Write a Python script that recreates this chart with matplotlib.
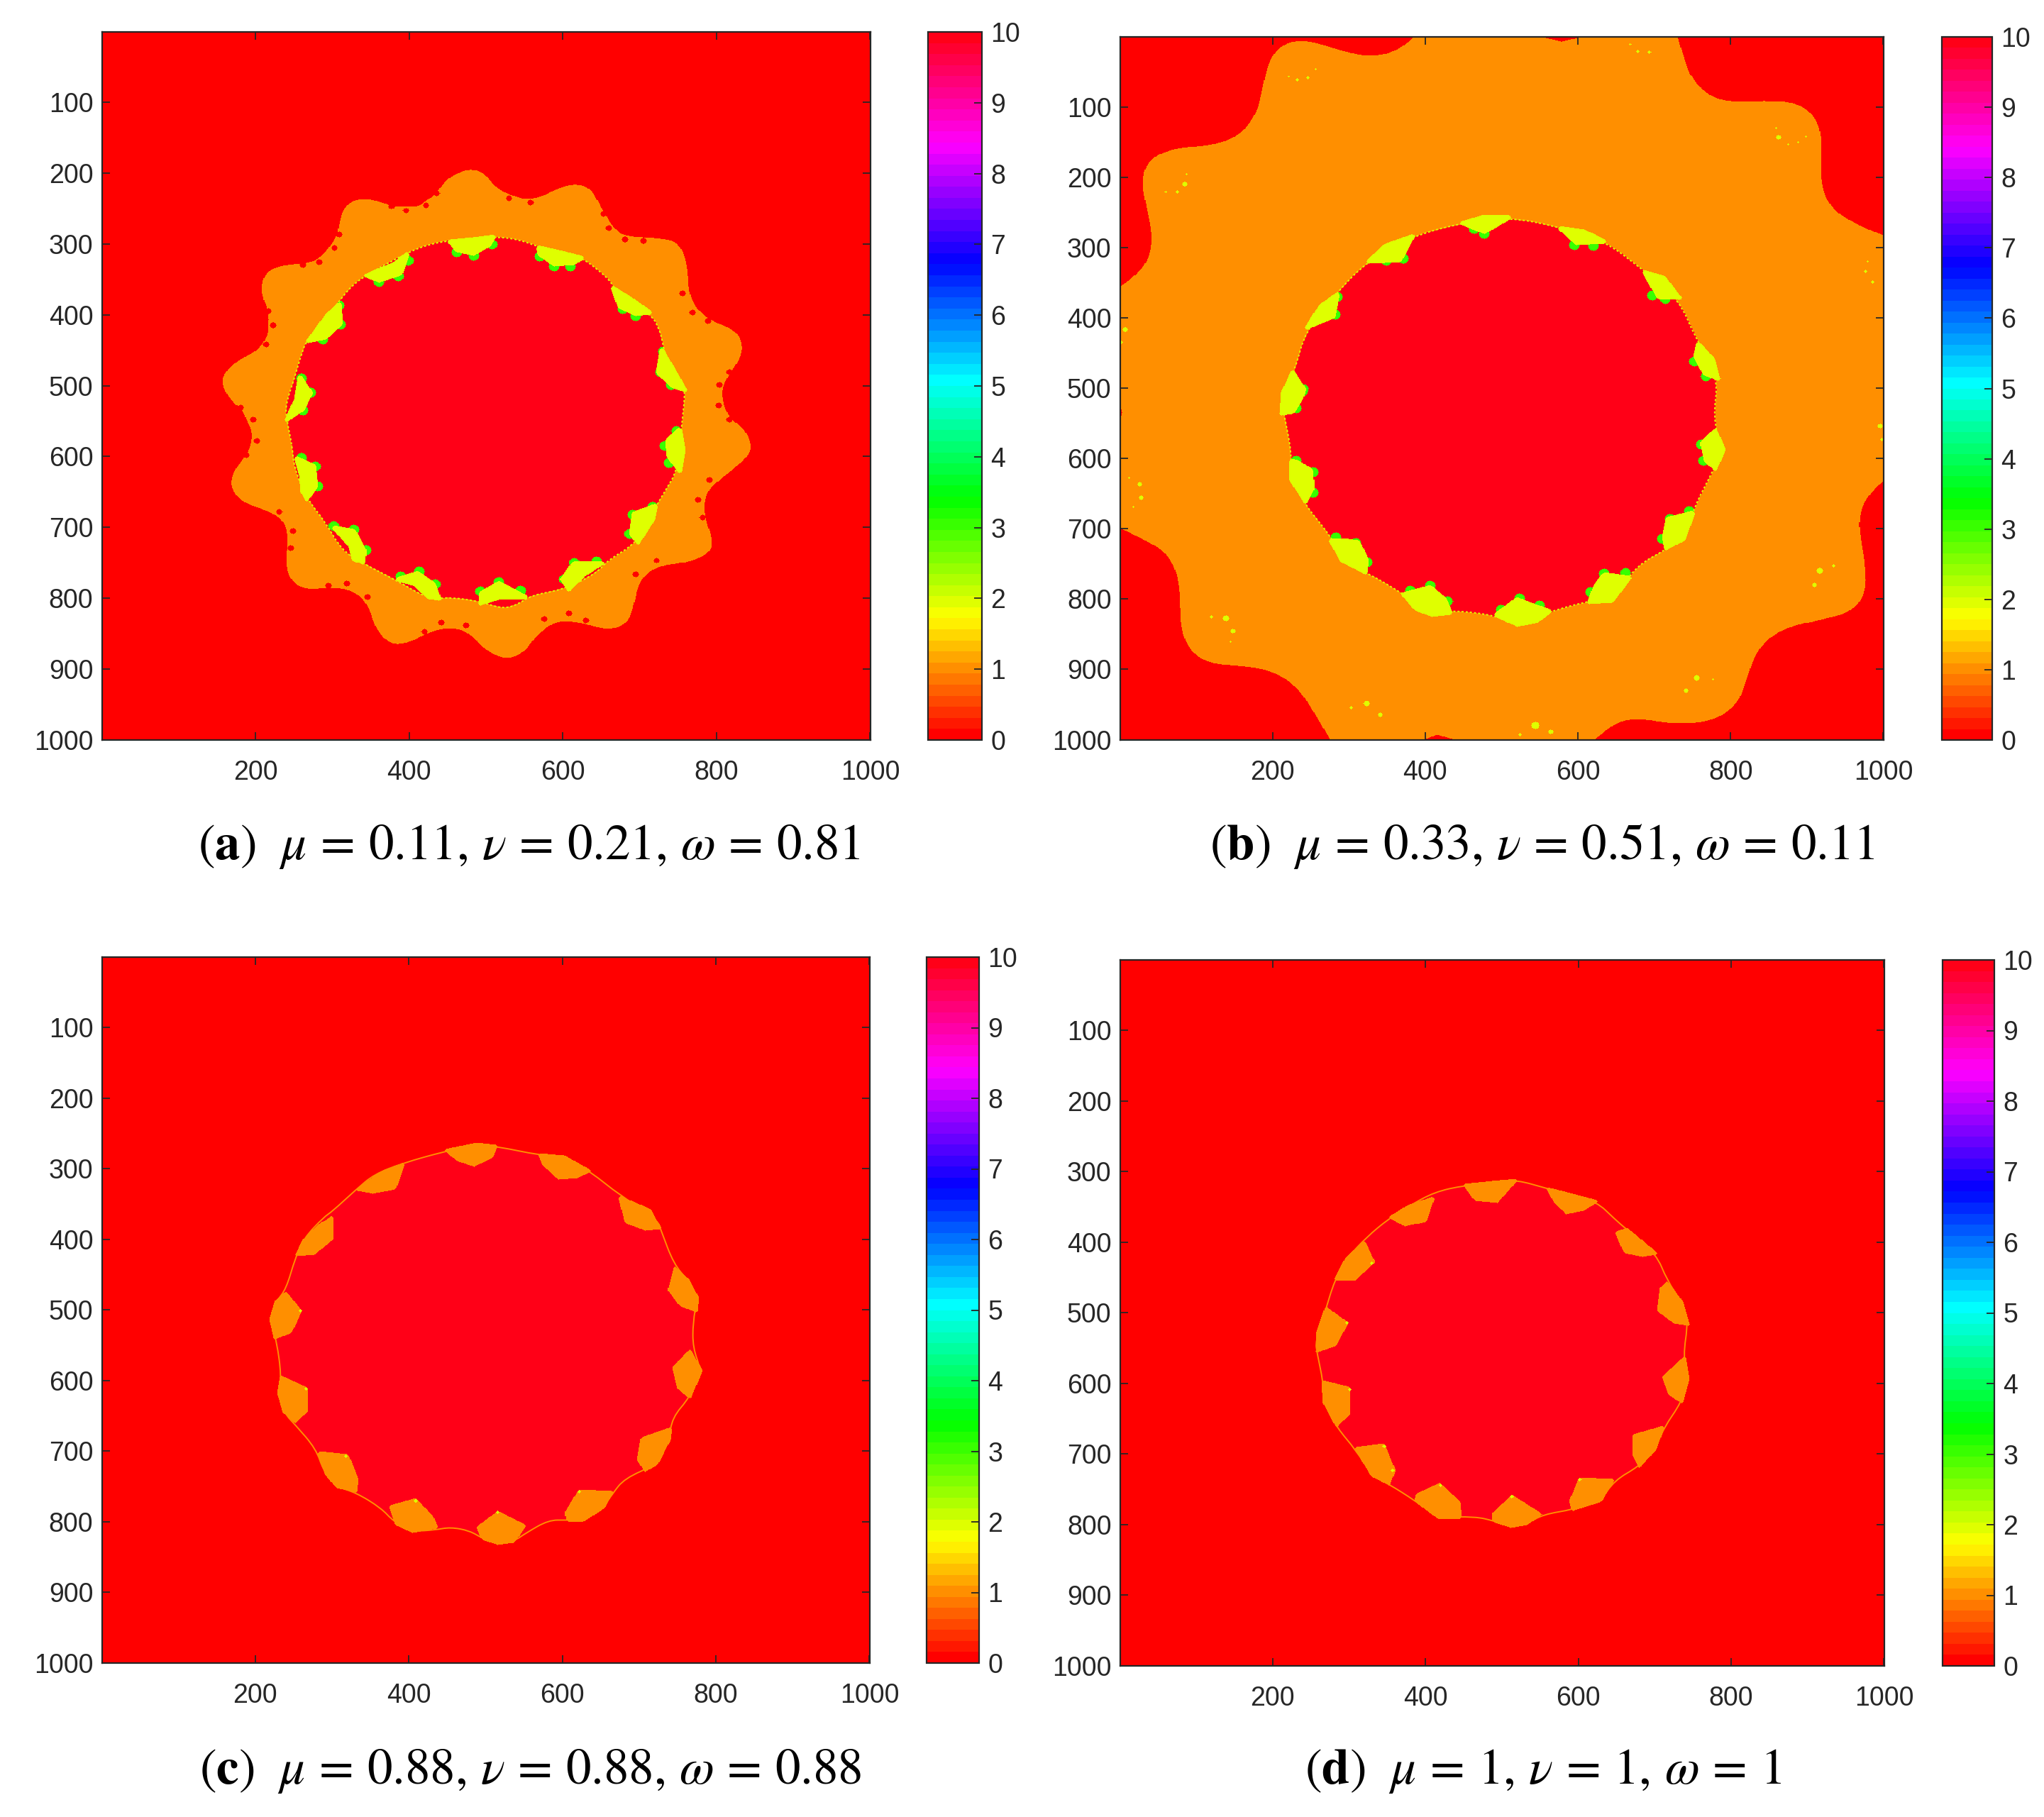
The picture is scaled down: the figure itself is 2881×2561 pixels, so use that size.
import numpy as np
import matplotlib
matplotlib.use("Agg")
import matplotlib.pyplot as plt
from matplotlib.colors import ListedColormap, hsv_to_rgb
from matplotlib.patches import PathPatch
from matplotlib.path import Path

plt.rcParams["font.family"] = ["Liberation Sans", "DejaVu Sans"]
plt.rcParams["mathtext.fontset"] = "stix"

# level values used in the maps
BG = 0
ORANGE = 1
YELLOW = 2
GREEN = 3
INNER = 10

# --------------------
# panel a
# --------------------
a_outer = [(476,193),(450,207),(443,217),(431,233),(420,239),(413,247),(394,246),(380,247),(363,240),(342,235),
           (325,239),(316,249),(310,264),(307,287),(297,304),(285,319),(271,327),(248,329),(229,332),(215,340),
           (208,355),(209,375),(217,395),(217,419),(215,432),(203,450),(187,459),(173,468),(159,483),(156,499),
           (168,521),(184,535),(189,551),(196,564),(194,586),(184,604),(173,618),(167,638),(175,656),(189,667),
           (215,676),(236,689),(243,712),(239,752),(246,776),(265,789),(300,785),(328,790),(347,810),(356,843),
           (375,866),(399,864),(427,848),(455,841),(479,850),(498,873),(526,888),(550,877),(564,855),(590,832),
           (625,835),(658,846),(684,837),(693,810),(698,779),(719,756),(762,750),(792,736),(795,716),(783,680),
           (787,649),(804,633),(842,600),(846,582),(835,559),(816,546),(806,515),(811,492),(832,461),(834,439),
           (823,421),(785,405),(764,376),(763,332),(752,299),(728,292),(681,290),(667,279),(655,259),(643,233),
           (634,220),(615,214),(589,223),(575,232),(554,237),(540,233),(526,228),(511,218),(497,198)]
a_inner = [(516,290),(544,294),(568,304),(596,312),(625,320),(643,334),(662,352),(672,372),(716,400),(726,422),
           (729,434),(733,457),(757,501),(759,515),(755,551),(750,618),(733,649),(721,671),(698,721),(658,747),
           (644,765),(601,788),(559,796),(540,810),(521,815),(493,805),(455,799),(437,801),(418,797),(385,776),
           (338,750),(312,732),(290,691),(267,660),(250,615),(248,586),(241,550),(239,528),(250,492),(262,448),
           (267,437),(306,385),(325,359),(347,342),(398,312),(427,300),(455,295),(483,291)]
a_lobes = [[(453,297),(462,309),(484,314),(504,302),(511,290),(483,294)],
           [(568,305),(570,315),(589,329),(615,327),(625,320),(596,312)],
           [(665,362),(674,389),(695,399),(714,397),(690,379)],
           [(729,450),(724,481),(743,501),(759,506),(747,483)],
           [(752,562),(736,577),(738,600),(752,620),(757,591)],
           [(721,669),(693,680),(689,709),(698,721),(717,689)],
           [(653,750),(615,750),(599,774),(608,788),(627,768)],
           [(552,799),(517,779),(493,794),(493,808),(519,799)],
           [(439,801),(432,781),(411,765),(385,774),(408,781),(425,799)],
           [(340,750),(342,732),(328,705),(302,700),(323,725),(328,745)],
           [(267,660),(279,642),(276,613),(253,602),(260,627),(262,651)],
           [(241,548),(262,533),(272,510),(258,488),(253,519)],
           [(269,437),(292,432),(311,412),(309,385),(295,399),(281,419)],
           [(344,345),(361,352),(389,342),(398,314),(380,329),(361,337)]]
a_green = [(462,312),(484,317),(508,301),(589,332),(610,332),(570,318),(678,392),(695,402),(361,354),(386,346),
           (399,324),(311,414),(288,435),(309,387),(727,481),(731,452),(741,499),(733,585),(748,564),(738,609),
           (691,682),(687,709),(717,671),(615,750),(644,748),(602,774),(517,778),(493,791),(545,790),(413,763),
           (389,770),(434,781),(328,703),(302,698),(344,732),(278,614),(281,642),(260,602),(272,510),(262,535),(260,490)]
a_holes = [(396,253),(422,245),(436,228),(530,235),(558,241),(660,278),(681,294),(705,296),(653,258),(756,370),
           (769,397),(789,409),(303,306),(283,326),(262,330),(223,415),(214,442),(217,395),(309,287),(377,247),
           (202,578),(197,548),(181,531),(188,598),(231,678),(249,705),(246,729),(319,780),(295,783),(346,799),
           (442,835),(474,839),(420,848),(576,830),(608,822),(630,832),(695,767),(722,747),(776,661),(791,633),
           (782,686),(803,528),(817,548),(804,499),(817,481)]

# --------------------
# panel b (last point of each corner is the frame corner)
# --------------------
b_corners = [[(386,0),(367,19),(331,29),(295,22),(259,9),(233,5),(210,13),(194,36),(186,79),(178,112),(155,142),
              (119,155),(70,158),(38,175),(28,204),(35,244),(43,284),(38,317),(21,340),(0,356),(0,0)],
             [(549,0),(578,7),(608,0)],
             [(730,0),(738,32),(751,65),(777,89),(813,94),(852,91),(888,95),(911,115),(919,145),(916,198),(924,234),
              (950,261),(1001,284),(1001,0)],
             [(1001,631),(979,651),(967,681),(969,714),(976,753),(976,793),(956,819),(917,829),(865,843),(833,872),
              (819,919),(807,952),(774,975),(722,978),(676,969),(643,978),(621,1001),(1001,1001)],
             [(396,1001),(415,993),(442,1001)],
             [(276,1001),(256,965),(233,925),(200,902),(161,895),(116,892),(90,872),(79,839),(79,786),(70,747),
              (44,720),(0,699),(0,1001)],
             [(0,522),(3,535),(0,548)],
             [(1001,437),(998,445),(1001,453)]]
b_inner = [(510,257),(572,270),(634,290),(683,330),(732,373),(754,429),(784,485),(777,542),(788,585),(779,614),
           (751,671),(745,707),(715,730),(676,753),(650,796),(614,803),(562,818),(523,838),(491,823),(438,816),
           (409,821),(373,794),(325,763),(295,750),(276,710),(243,667),(223,624),(225,591),(215,538),(212,515),
           (230,472),(243,419),(285,363),(324,320),(383,284),(448,265)]
b_lobes = [[(448,265),(477,278),(510,257),(477,256)],
           [(575,272),(598,294),(634,292),(608,277)],
           [(686,335),(705,370),(732,371),(712,343)],
           [(783,486),(776,459),(757,437),(753,455),(765,479)],
           [(779,615),(790,587),(779,560),(762,577),(767,603)],
           [(715,728),(738,714),(750,677),(717,686),(712,711)],
           [(615,804),(644,802),(667,770),(634,765),(622,782)],
           [(492,822),(520,837),(544,832),(563,817),(544,810),(520,800),(501,815)],
           [(371,793),(388,814),(409,822),(433,819),(425,800),(406,783),(392,787)],
           [(276,716),(290,745),(321,762),(323,745),(312,719),(293,716)],
           [(224,603),(224,630),(243,661),(252,644),(250,617),(233,605)],
           [(226,477),(214,506),(212,536),(226,534),(237,516),(241,501)],
           [(245,414),(279,399),(285,366),(263,383)],
           [(326,320),(367,318),(384,284),(347,298)]]
b_green = [(240,501),(231,529),(253,620),(253,649),(231,603),(309,720),(324,748),(283,712),(406,781),(380,788),
           (429,803),(523,799),(499,815),(549,809),(634,764),(662,763),(616,790),(720,686),(710,714),(745,675),
           (761,580),(764,603),(752,462),(767,483),(477,281),(464,274),(595,297),(620,298),(714,373),(697,368),
           (282,396),(285,370),(349,319),(371,316),(239,505)]
b_dots_x = [678,693,668,256,246,232,221,862,875,859,888,898,85,75,60,87,976,985,979,7,2,995,997,26,28,12,18,916,909,
            934,139,148,120,145,323,303,341,755,741,776,544,524,564]
b_dots_y = [21,22,11,46,59,62,57,143,153,130,150,142,210,221,221,196,334,349,320,417,435,554,573,637,656,628,669,
            760,780,753,827,846,825,861,949,955,965,912,930,914,980,993,989]
b_dots_r = [2,2,1,1,2,2,1,3,1,1,1,1,3,2,1,1,2,2,1,3,2,3,2,3,3,1,1,4,3,2,4,3,2,1,4,2,3,4,3,1,5,2,3]

# --------------------
# panel c
# --------------------
c_inner = [(488,266),(516,269),(570,281),(603,284),(636,304),(675,338),(723,371),(729,389),(745,435),(764,459),
           (776,483),(770,518),(770,554),(781,586),(766,624),(743,653),(739,685),(723,719),(681,739),(665,761),
           (653,781),(628,798),(605,798),(582,798),(553,816),(537,828),(516,831),(496,824),(479,813),(454,808),
           (434,812),(405,814),(380,800),(364,781),(331,759),(306,751),(289,729),(279,697),(252,663),(238,647),
           (230,618),(234,594),(228,546),(220,514),(228,487),(240,471),(252,427),(263,399),(289,369),(300,361),
           (331,330),(355,308),(393,292),(446,276)]
c_lobes = [[(448,275),(463,288),(485,296),(508,284),(514,269),(488,266)],
           [(570,281),(576,296),(595,314),(620,312),(636,304),(603,284)],
           [(675,341),(683,377),(708,387),(727,385),(714,359)],
           [(747,441),(739,473),(754,494),(774,502),(776,483),(764,459)],
           [(766,558),(745,582),(752,612),(766,624),(781,586)],
           [(741,669),(704,683),(699,713),(708,728),(723,719),(739,685)],
           [(665,759),(622,757),(605,787),(607,798),(628,798),(653,781)],
           [(551,806),(516,787),(490,808),(496,824),(516,831),(537,828)],
           [(436,808),(430,793),(409,769),(376,779),(384,804),(405,814)],
           [(331,757),(333,741),(320,707),(283,703),(292,733),(306,751)],
           [(252,659),(267,645),(267,612),(234,595),(230,618),(238,647)],
           [(226,540),(246,532),(259,502),(240,477),(228,487),(220,514)],
           [(254,423),(277,421),(300,401),(300,369),(279,385),(263,403)],
           [(333,330),(353,334),(382,328),(393,294),(364,306)]]
c_tips = [(409,771),(516,787),(318,708),(622,758),(266,612),(259,502)]

# --------------------
# panel d
# --------------------
d_inner = [(519,312),(558,324),(586,332),(624,343),(647,367),(664,383),(702,417),(716,454),(735,485),(744,512),
           (737,562),(744,594),(735,627),(712,663),(700,695),(679,718),(647,738),(629,767),(593,779),(554,786),
           (533,799),(512,803),(489,795),(465,789),(416,790),(387,767),(352,743),(330,731),(309,695),(284,663),
           (268,630),(266,598),(258,557),(256,541),(268,501),(281,454),(298,422),(323,393),(352,367),(377,350),
           (412,329),(451,320),(494,315)]
d_lobes = [[(451,320),(465,340),(494,343),(519,313),(487,316)],
           [(560,325),(570,345),(584,359),(607,354),(624,343),(586,332)],
           [(650,388),(661,415),(684,420),(702,417),(682,399),(664,383)],
           [(709,465),(705,498),(725,514),(744,517),(735,485),(716,458)],
           [(739,564),(711,591),(720,616),(735,627),(744,594)],
           [(711,663),(672,675),(673,704),(680,718),(700,695)],
           [(645,738),(602,736),(590,767),(593,779),(629,767)],
           [(551,786),(513,760),(490,783),(489,795),(512,803),(533,799)],
           [(446,790),(444,769),(419,743),(389,758),(387,767),(416,790)],
           [(352,743),(359,724),(345,688),(309,693),(330,731)],
           [(284,661),(300,645),(300,607),(266,598),(268,630)],
           [(258,555),(282,546),(297,515),(270,494),(258,530)],
           [(282,453),(309,453),(332,429),(320,402),(298,422)],
           [(354,365),(373,377),(400,370),(410,338),(377,350)]]
d_tips = [(346,690),(301,609),(297,515),(420,745),(513,761),(602,737),(357,724),(330,431)]

x_ticks = [200, 400, 600, 800, 1000]
y_ticks = [100, 200, 300, 400, 500, 600, 700, 800, 900, 1000]
cbar_ticks = [0, 1, 2, 3, 4, 5, 6, 7, 8, 9, 10]

captions = [r"$(\mathbf{a})\ \ \mu\,=\,0.11,\,\nu\,=\,0.21,\,\omega\,=\,0.81$",
            r"$(\mathbf{b})\ \ \mu\,=\,0.33,\,\nu\,=\,0.51,\,\omega\,=\,0.11$",
            r"$(\mathbf{c})\ \ \mu\,=\,0.88,\,\nu\,=\,0.88,\,\omega\,=\,0.88$",
            r"$(\mathbf{d})\ \ \mu\,=\,1,\,\nu\,=\,1,\,\omega\,=\,1$"]

W, H = 2881, 2561
DARK = "#262626"

cmap = ListedColormap(hsv_to_rgb([[i / 64, 1, 1] for i in range(64)]))

gx, gy = np.meshgrid(np.arange(1, 1001), np.arange(1, 1001))
grid_pts = np.column_stack([gx.ravel(), gy.ravel()])


def round_path(pts):
    # closed outline drawn as a quadratic spline over the read points
    p = np.array(pts, dtype=float)
    mid = (p + np.roll(p, -1, axis=0)) / 2
    verts = [mid[-1]]
    codes = [Path.MOVETO]
    for c, m in zip(p, mid):
        verts += [c, m]
        codes += [Path.CURVE3, Path.CURVE3]
    verts.append(mid[-1])
    codes.append(Path.CLOSEPOLY)
    return Path(verts, codes)


def corner_path(pts):
    # same, open along the read points, then straight to the frame corner
    p = np.array(pts[:-1], dtype=float)
    verts = [p[0]]
    codes = [Path.MOVETO]
    for i in range(1, len(p) - 1):
        end = p[i + 1] if i == len(p) - 2 else (p[i] + p[i + 1]) / 2
        verts += [p[i], end]
        codes += [Path.CURVE3, Path.CURVE3]
    if len(p) == 2:
        verts.append(p[1])
        codes.append(Path.LINETO)
    verts += [pts[-1], p[0]]
    codes += [Path.LINETO, Path.CLOSEPOLY]
    return Path(verts, codes)


def fill_path(z, path, value):
    z[path.contains_points(grid_pts).reshape(z.shape)] = value


def fill_lobe(z, pts, value, grow=3):
    # lobes are blunt in the picture, so round off the read polygon by a few cells
    mask = Path(pts + [pts[0]]).contains_points(grid_pts).reshape(z.shape)
    out = mask.copy()
    for dx in range(-grow, grow + 1):
        for dy in range(-grow, grow + 1):
            if dx**2 + dy**2 <= grow**2:
                out |= np.roll(np.roll(mask, dy, axis=0), dx, axis=1)
    z[out] = value


def fill_spots(z, pts, radius, value, only=None):
    radius = np.broadcast_to(radius, len(pts))
    for (x, y), r in zip(pts, radius):
        mask = (gx - x) ** 2 + (gy - y) ** 2 <= r**2
        if only is not None:
            mask &= z == only
        z[mask] = value


# --------------------
# build the maps
# --------------------
za = np.full((1000, 1000), BG, dtype=float)
fill_path(za, round_path(a_outer), ORANGE)
fill_spots(za, a_holes, 4, BG)
fill_path(za, round_path(a_inner), INNER)
fill_spots(za, a_green, 7, GREEN, only=INNER)
for lobe in a_lobes:
    fill_lobe(za, lobe, YELLOW)

zb = np.full((1000, 1000), ORANGE, dtype=float)
for corner in b_corners:
    fill_path(zb, corner_path(corner), BG)
fill_spots(zb, list(zip(b_dots_x, b_dots_y)), b_dots_r, YELLOW)
fill_path(zb, round_path(b_inner), INNER)
fill_spots(zb, b_green, 7, GREEN, only=INNER)
for lobe in b_lobes:
    fill_lobe(zb, lobe, YELLOW)

zc = np.full((1000, 1000), BG, dtype=float)
fill_path(zc, round_path(c_inner), INNER)
for lobe in c_lobes:
    fill_lobe(zc, lobe, ORANGE, grow=2)
fill_spots(zc, c_tips, 2, YELLOW)

zd = np.full((1000, 1000), BG, dtype=float)
fill_path(zd, round_path(d_inner), INNER)
for lobe in d_lobes:
    fill_lobe(zd, lobe, ORANGE, grow=2)
fill_spots(zd, d_tips, 2, YELLOW)

# map, edge outline, line colour, line style, axes box (l, t, r, b), colorbar box (l, r), caption centre, in pixels
panels = [
    (za, a_inner, "#dfff00", (0, (1.5, 1.5)), (144, 45, 1227, 1043), (1308, 1384), (746, 1193)),
    (zb, b_inner, "#dfff00", (0, (1.5, 1.5)), (1579, 52, 2655, 1043), (2737, 2808), (2174, 1193)),
    (zc, c_inner, "#ff8f00", "-", (144, 1349, 1226, 2344), (1306, 1380), (748, 2496)),
    (zd, d_inner, "#ff8f00", "-", (1579, 1353, 2656, 2348), (2738, 2811), (2175, 2496)),
]

fig = plt.figure(figsize=(W / 100, H / 100), dpi=100)

for (z, edge, edge_color, edge_ls, box, cbox, cap_pos), cap in zip(panels, captions):
    l, t, r, b = box
    ax = fig.add_axes([l / W, 1 - b / H, (r - l) / W, (b - t) / H])
    im = ax.imshow(z, cmap=cmap, vmin=0, vmax=10, extent=(0.5, 1000.5, 1000.5, 0.5),
                   aspect="auto", interpolation="nearest")
    ax.add_patch(PathPatch(round_path(edge), fill=False, ec=edge_color, lw=1.4, ls=edge_ls))
    ax.set_xlim(0.5, 1000.5)
    ax.set_ylim(1000.5, 0.5)
    ax.set_xticks(x_ticks)
    ax.set_yticks(y_ticks)
    ax.tick_params(direction="in", top=True, right=True, length=8, width=1.3, color=DARK,
                   labelsize=27, labelcolor=DARK, pad=9)
    ax.tick_params(axis="x", pad=20)
    for s in ax.spines.values():
        s.set_linewidth(1.6)
        s.set_color(DARK)

    cax = fig.add_axes([cbox[0] / W, 1 - b / H, (cbox[1] - cbox[0]) / W, (b - t) / H])
    cb = fig.colorbar(im, cax=cax, ticks=cbar_ticks)
    cax.tick_params(direction="in", length=8, width=1.3, color=DARK, labelsize=27, labelcolor=DARK, pad=9)
    cb.outline.set_linewidth(1.6)
    cb.outline.set_edgecolor(DARK)

    fig.text(cap_pos[0] / W, 1 - cap_pos[1] / H, cap, ha="center", va="center", fontsize=51, color="black")

fig.savefig("out.png", dpi=100)
